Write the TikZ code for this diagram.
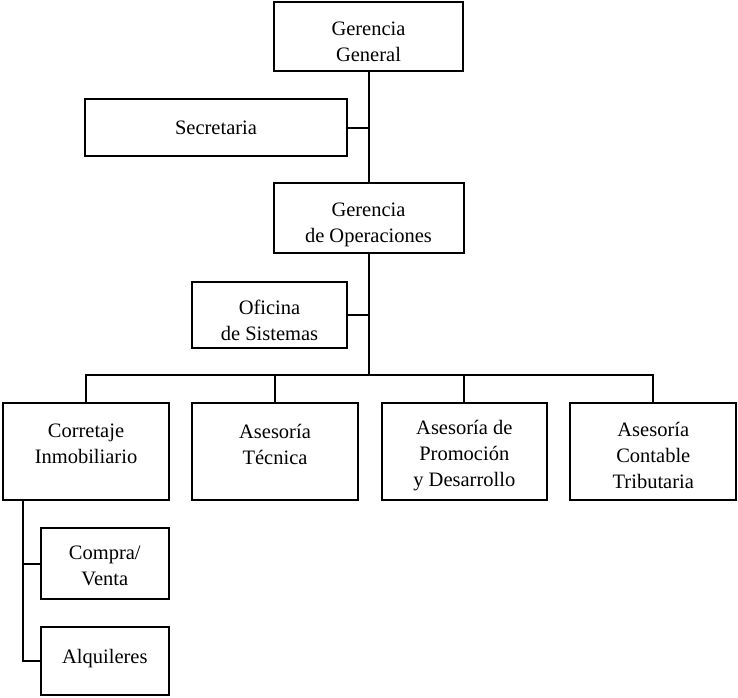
\documentclass[tikz,border=0pt]{standalone}
\usepackage{fontspec}
\setmainfont{Liberation Serif}
\begin{document}
\begin{tikzpicture}[x=1pt,y=-1pt,
  line width=2pt,
  box/.style={draw=black, line width=2pt, rectangle, inner sep=0pt},
  lbl/.style={align=center, inner sep=0pt, font=\fontsize{20.5}{26}\selectfont},
  link/.style={draw=black, line width=2pt}]
\useasboundingbox (0,0) rectangle (738,697);

% boxes
\node[box, minimum width=189pt, minimum height=69pt] (gg)  at (368.5,36.5) {};
\node[box, minimum width=262pt, minimum height=57pt] (sec) at (216,127.5) {};
\node[box, minimum width=190pt, minimum height=70pt] (go)  at (368.5,218) {};
\node[box, minimum width=155pt, minimum height=66pt] (ofi) at (269.5,315) {};
\node[box, minimum width=166pt, minimum height=97pt] (cor) at (86,451.5) {};
\node[box, minimum width=166pt, minimum height=97pt] (tec) at (275,451.5) {};
\node[box, minimum width=165pt, minimum height=97pt] (pro) at (464.3,451.5) {};
\node[box, minimum width=166pt, minimum height=97pt] (con) at (653.3,451.5) {};
\node[box, minimum width=128pt, minimum height=71pt] (cv)  at (104.8,563.5) {};
\node[box, minimum width=128pt, minimum height=68pt] (alq) at (104.8,661) {};

% labels
\node[lbl] (gg-t)  at (368.5,42) {Gerencia\\General};
\node[lbl] (sec-t) at (216,128) {Secretaria};
\node[lbl] (go-t)  at (368.5,225) {Gerencia\\de Operaciones};
\node[lbl] (ofi-t) at (269.5,320) {Oficina\\de Sistemas};
\node[lbl] (cor-t) at (86,444) {Corretaje\\Inmobiliario};
\node[lbl] (tec-t) at (275,444) {Asesoría\\Técnica};
\node[lbl] (pro-t) at (464.3,456) {Asesoría de\\Promoción\\y Desarrollo};
\node[lbl] (con-t) at (653.3,455) {Asesoría\\Contable\\Tributaria};
\node[lbl] (cv-t)  at (104.8,566) {Compra/\\Venta};
\node[lbl] (alq-t) at (104.8,659) {Alquileres};

% connectors
\coordinate (bus) at (0,375);
\coordinate (trunk) at (22.7,500);
\draw[link] (gg.south) -- (go.north);
\draw[link] (sec.east) -- (sec.east -| gg.south);
\draw[link] (go.south) -- (go.south |- bus);
\draw[link] (ofi.east) -- (ofi.east -| go.south);
\draw[link] (cor.north) |- (con.north |- bus) -- (con.north);
\draw[link] (tec.north) -- (tec.north |- bus);
\draw[link] (pro.north) -- (pro.north |- bus);
\draw[link] (trunk) |- (alq.west);
\draw[link] (cv.west) -- (cv.west -| trunk);
\end{tikzpicture}
\end{document}
